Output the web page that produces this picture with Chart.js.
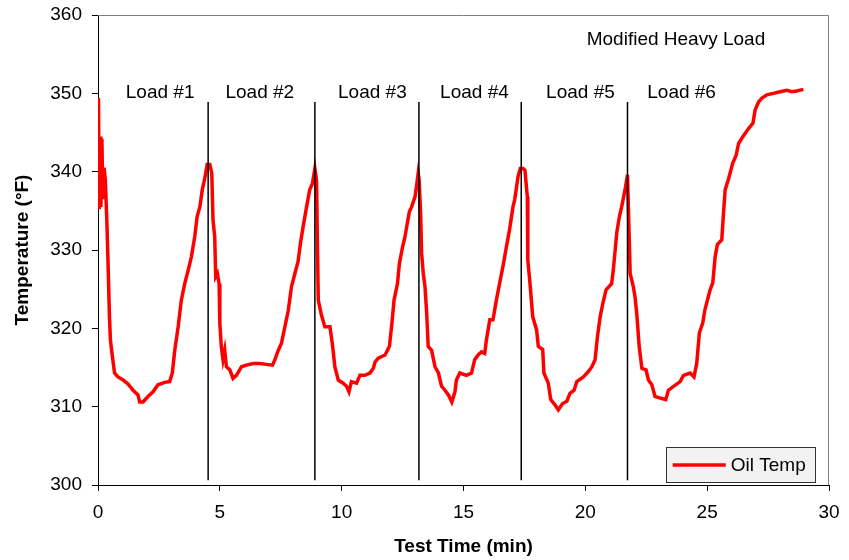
<!DOCTYPE html>
<html>
<head>
<meta charset="utf-8">
<script src="https://cdn.jsdelivr.net/npm/chart.js@4.4.1/dist/chart.umd.min.js"></script>
<style>
  html, body { margin: 0; padding: 0; background: #fff; }
  #wrap { width: 849px; height: 560px; position: relative; }
</style>
</head>
<body>
<div id="wrap"><canvas id="graph"></canvas></div>
<script>
// Test time, minutes
const timeMin = [
  0.02, 0.05, 0.09, 0.12, 0.16, 0.20, 0.25, 0.30, 0.36, 0.42, 0.47, 0.51, 0.59, 0.68, 0.82,
  1.03, 1.23, 1.44, 1.64, 1.71, 1.85, 2.05, 2.26, 2.46, 2.74, 2.94, 3.05, 3.15, 3.29, 3.42,
  3.56, 3.70, 3.83, 3.97, 4.07, 4.18, 4.28, 4.38, 4.48, 4.59, 4.67, 4.72, 4.79, 4.83, 4.90,
  4.97, 5.00, 5.06, 5.13, 5.20, 5.27, 5.41, 5.54, 5.68, 5.89, 6.09, 6.37, 6.64, 6.91, 7.16,
  7.26, 7.40, 7.53, 7.67, 7.81, 7.94, 8.08, 8.21, 8.31, 8.42, 8.56, 8.69, 8.80, 8.90, 8.97,
  9.01, 9.04, 9.17, 9.31, 9.52, 9.63, 9.72, 9.86, 10.06, 10.20, 10.30, 10.40, 10.61, 10.75, 10.95,
  11.16, 11.30, 11.37, 11.50, 11.78, 11.96, 12.06, 12.15, 12.29, 12.37, 12.50, 12.60, 12.67, 12.78, 12.87,
  13.01, 13.07, 13.14, 13.18, 13.24, 13.28, 13.35, 13.42, 13.49, 13.55, 13.69, 13.83, 13.97, 14.10, 14.24,
  14.38, 14.52, 14.65, 14.71, 14.85, 15.12, 15.33, 15.46, 15.60, 15.74, 15.87, 15.94, 16.08, 16.21, 16.35,
  16.48, 16.62, 16.76, 16.89, 17.03, 17.10, 17.24, 17.33, 17.44, 17.52, 17.62, 17.64, 17.73, 17.84, 18.00,
  18.07, 18.25, 18.30, 18.48, 18.58, 18.76, 18.89, 19.07, 19.24, 19.37, 19.54, 19.65, 19.92, 20.13, 20.27,
  20.40, 20.50, 20.61, 20.72, 20.85, 21.08, 21.15, 21.29, 21.40, 21.49, 21.63, 21.73, 21.77, 21.84, 21.97,
  22.04, 22.11, 22.21, 22.32, 22.49, 22.59, 22.73, 22.86, 23.07, 23.30, 23.41, 23.62, 23.89, 24.03, 24.30,
  24.46, 24.57, 24.68, 24.82, 24.91, 25.12, 25.23, 25.33, 25.42, 25.60, 25.67, 25.74, 25.87, 26.05, 26.19,
  26.29, 26.47, 26.70, 26.88, 26.97, 27.11, 27.25, 27.45, 27.72, 27.99, 28.27, 28.47, 28.67, 28.95
];

// Oil temperature, °F
const oilTemp = [
  349.4, 335.2, 344.5, 335.5, 344.2, 336.5, 340.5, 339.0, 334.0, 327.5, 321.5, 318.5, 316.4, 314.3, 313.8,
  313.4, 312.9, 312.1, 311.5, 310.6, 310.6, 311.3, 311.9, 312.8, 313.1, 313.2, 314.3, 317.2, 320.2, 323.6,
  325.7, 327.4, 329.1, 331.7, 334.3, 335.5, 337.7, 339.1, 340.9, 340.9, 339.8, 333.8, 331.7, 326.6, 327.0,
  325.7, 320.6, 317.7, 316.0, 317.2, 315.1, 314.7, 313.6, 314.0, 315.1, 315.3, 315.5, 315.5, 315.4, 315.3,
  316.0, 317.2, 318.1, 320.2, 322.3, 325.3, 327.0, 328.5, 330.9, 333.0, 335.5, 337.7, 338.5, 340.4, 338.9,
  329.6, 323.6, 321.7, 320.2, 320.2, 317.7, 315.1, 313.4, 313.0, 312.6, 311.9, 313.2, 313.0, 314.0, 314.0,
  314.3, 314.9, 315.7, 316.2, 316.6, 317.7, 320.6, 323.6, 325.7, 328.3, 330.4, 331.7, 333.0, 334.9, 335.5,
  336.8, 338.1, 339.8, 338.9, 334.7, 329.6, 327.0, 325.3, 321.9, 317.7, 317.2, 315.1, 314.3, 312.6, 312.1,
  311.5, 310.6, 311.9, 313.4, 314.3, 314.0, 314.3, 316.0, 316.6, 317.0, 316.8, 318.5, 321.1, 321.1, 323.6,
  325.7, 327.9, 330.4, 332.6, 335.5, 336.4, 339.4, 340.4, 340.4, 340.2, 336.8, 328.7, 325.7, 321.5, 319.8,
  317.7, 317.3, 314.3, 313.0, 310.9, 310.2, 309.6, 310.4, 310.7, 311.7, 312.1, 313.2, 313.8, 314.5, 315.1,
  316.0, 319.0, 321.5, 323.2, 324.9, 325.7, 327.5, 332.2, 334.3, 335.5, 337.7, 339.6, 335.1, 327.0, 325.3,
  324.0, 321.9, 317.7, 314.9, 314.7, 313.4, 312.8, 311.3, 311.1, 310.9, 312.1, 312.6, 313.2, 314.0, 314.3,
  313.8, 315.5, 319.4, 320.7, 322.4, 324.9, 325.8, 329.2, 330.7, 331.3, 334.7, 337.7, 339.0, 341.1, 342.1,
  343.6, 344.5, 345.5, 346.2, 347.9, 348.9, 349.4, 349.8, 350.0, 350.2, 350.4, 350.2, 350.3, 350.5
];

// Load change markers (minutes) and the labels written between them
const loadSwitchTimes = [4.52, 8.90, 13.17, 17.37, 21.73];
const loadLineRange = [300.6, 348.9];
const loadLabels = ['Load #1', 'Load #2', 'Load #3', 'Load #4', 'Load #5', 'Load #6'];
const loadLabelTimes = [2.55, 6.64, 11.26, 15.45, 19.80, 23.95];
const loadLabelTemp = 350.1;

const chartNote = 'Modified Heavy Load';
const seriesName = 'Oil Temp';
const xTitle = 'Test Time (min)';
const yTitle = 'Temperature (°F)';

const FONT = "'Liberation Sans', Arial, sans-serif";

const points = timeMin.map((t, i) => ({ x: t, y: oilTemp[i] }));

const loadDatasets = loadSwitchTimes.map(t => ({
  label: 'switch',
  data: [{ x: t, y: loadLineRange[0] }, { x: t, y: loadLineRange[1] }],
  borderColor: '#000',
  borderWidth: 1.5,
  pointRadius: 0,
  order: 0
}));

function CreateDecorPlugin() {
  return {
    id: 'decorPlugin',
    beforeDatasetsDraw: (chart) => {
      const ctx = chart.ctx;
      const a = chart.chartArea;
      ctx.save();
      ctx.strokeStyle = '#808080';
      ctx.lineWidth = 1;
      ctx.beginPath();
      ctx.moveTo(a.left, a.top + 0.5);
      ctx.lineTo(a.right - 0.5, a.top + 0.5);
      ctx.lineTo(a.right - 0.5, a.bottom);
      ctx.stroke();
      ctx.restore();
    },
    afterDraw: (chart) => {
      const ctx = chart.ctx;
      const xs = chart.scales.x;
      const ys = chart.scales.y;

      ctx.save();
      ctx.fillStyle = '#000';
      ctx.font = '19px ' + FONT;
      ctx.textAlign = 'center';
      ctx.textBaseline = 'middle';
      loadLabels.forEach((txt, i) => {
        ctx.fillText(txt, xs.getPixelForValue(loadLabelTimes[i]), ys.getPixelForValue(loadLabelTemp));
      });
      ctx.fillText(chartNote, xs.getPixelForValue(23.72), ys.getPixelForValue(356.8));

      // Legend box inside the plot, bottom right
      const left = xs.getPixelForValue(23.3);
      const right = xs.getPixelForValue(29.43);
      const top = ys.getPixelForValue(304.8);
      const bottom = ys.getPixelForValue(300.3);
      ctx.fillStyle = '#f2f2f2';
      ctx.fillRect(left, top, right - left, bottom - top);
      ctx.strokeStyle = '#333';
      ctx.lineWidth = 1;
      ctx.strokeRect(Math.round(left) + 0.5, Math.round(top) + 0.5, Math.round(right - left), Math.round(bottom - top));
      const midY = (top + bottom) / 2;
      ctx.strokeStyle = '#ff0000';
      ctx.lineWidth = 3.5;
      ctx.beginPath();
      ctx.moveTo(left + 7, midY);
      ctx.lineTo(left + 60, midY);
      ctx.stroke();
      ctx.fillStyle = '#000';
      ctx.textAlign = 'left';
      ctx.fillText(seriesName, left + 65, midY + 1);
      ctx.restore();
    }
  };
}

new Chart(document.getElementById('graph'), {
  type: 'line',
  data: {
    datasets: [
      ...loadDatasets,
      {
        label: seriesName,
        data: points,
        borderColor: '#ff0000',
        backgroundColor: '#ff0000',
        borderWidth: 3.5,
        pointRadius: 0,
        tension: 0,
        fill: false,
        order: 1
      }
    ]
  },
  options: {
    responsive: true,
    maintainAspectRatio: false,
    animation: false,
    layout: { padding: { top: 15, right: 20, left: 0, bottom: 0 } },
    plugins: {
      legend: { display: false },
      tooltip: { enabled: false }
    },
    scales: {
      x: {
        type: 'linear',
        min: 0,
        max: 30,
        ticks: { stepSize: 5, color: '#000', padding: 10, font: { family: FONT, size: 19 } },
        grid: { drawOnChartArea: false, drawTicks: true, tickLength: 6, color: '#000' },
        border: { display: true, color: '#000', width: 1 },
        title: { display: true, text: xTitle, color: '#000', padding: { top: 0, bottom: 2 }, font: { family: FONT, size: 19, weight: 'bold' } },
        afterFit: (scale) => { scale.height = 75; scale.paddingRight = 0; }
      },
      y: {
        min: 300,
        max: 360,
        ticks: { stepSize: 10, color: '#000', padding: 10, font: { family: FONT, size: 19 } },
        grid: { drawOnChartArea: false, drawTicks: true, tickLength: 6, color: '#000' },
        border: { display: true, color: '#000', width: 1 },
        title: { display: true, text: yTitle, color: '#000', padding: { top: 11, bottom: 0 }, font: { family: FONT, size: 19, weight: 'bold' } },
        afterFit: (scale) => { scale.width = 98; scale.paddingTop = 0; scale.paddingBottom = 0; }
      }
    }
  },
  plugins: [CreateDecorPlugin()]
});
</script>
</body>
</html>
